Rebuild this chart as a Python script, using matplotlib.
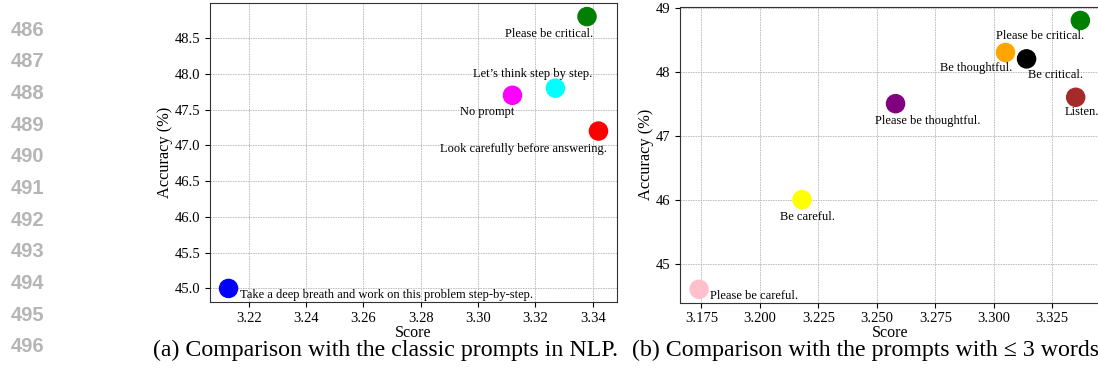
import matplotlib
matplotlib.use('Agg')
import matplotlib.pyplot as plt
from matplotlib.ticker import MultipleLocator, FormatStrFormatter

# (a) classic prompts
labels_a = ['Take a deep breath and work on this problem step-by-step.', 'No prompt',
            "Let\u2019s think step by step.", 'Please be critical.', 'Look carefully before answering.']
score_a = [3.213, 3.312, 3.327, 3.338, 3.342]
acc_a = [45.0, 47.7, 47.8, 48.8, 47.2]
colors_a = ['blue', 'magenta', 'cyan', 'green', 'red']

# (b) prompts with <= 3 words
labels_b = ['Please be careful.', 'Be careful.', 'Please be thoughtful.', 'Be thoughtful.',
            'Be critical.', 'Listen.', 'Please be critical.']
score_b = [3.174, 3.218, 3.258, 3.305, 3.314, 3.335, 3.337]
acc_b = [44.6, 46.0, 47.5, 48.3, 48.2, 47.6, 48.8]
colors_b = ['pink', 'yellow', 'purple', 'orange', 'black', 'brown', 'green']

# label placement (pixel offsets, alignment)
offs_a = [(11, -7, 'left'), (2, -17, 'right'), (37, 14, 'right'), (6, -17, 'right'), (9, -18, 'right')]
offs_b = [(11, -7, 'left'), (6, -17, 'center'), (32, -17, 'center'), (7, -16, 'right'),
          (1, -16, 'left'), (6, -15, 'center'), (4, -16, 'right')]

serif = ['Liberation Serif', 'DejaVu Serif']
plt.rcParams['font.family'] = serif

fig = plt.figure(figsize=(10.98, 3.68), dpi=100)
ax1 = fig.add_axes([0.1913, 0.1793, 0.3706, 0.8125])
ax2 = fig.add_axes([0.6193, 0.1774, 0.382, 0.8035])


def draw(ax, xs, ys, cols, labs, offs):
    ax.scatter(xs, ys, c=cols, s=170, zorder=3)
    for x, y, lab, (dx, dy, ha) in zip(xs, ys, labs, offs):
        ax.annotate(lab, (x, y), xytext=(dx * 0.72, dy * 0.72), textcoords='offset points',
                    ha=ha, va='center', fontsize=9, zorder=4)
    ax.grid(True, linestyle='--', linewidth=0.6, color='#b8b8b8', dashes=(2, 1))
    ax.set_axisbelow(True)
    ax.tick_params(labelsize=10.5, length=3.5, width=0.8)
    ax.set_xlabel('Score', fontsize=11.5, labelpad=0)
    ax.set_ylabel('Accuracy (%)', fontsize=11.8, labelpad=1)
    for s in ax.spines.values():
        s.set_color('#333333')


draw(ax1, score_a, acc_a, colors_a, labels_a, offs_a)
draw(ax2, score_b, acc_b, colors_b, labels_b, offs_b)
ax2.xaxis.set_major_locator(MultipleLocator(0.025))
ax2.xaxis.set_major_formatter(FormatStrFormatter('%.3f'))

fig.text(153 / 1098, 1 - 356 / 368, '(a) Comparison with the classic prompts in NLP.',
         fontsize=17.2, va='baseline', ha='left')
fig.text(632 / 1098, 1 - 356 / 368, '(b) Comparison with the prompts with \u2264 3 words',
         fontsize=17.2, va='baseline', ha='left')

# page line numbers
for i, n in enumerate(range(486, 497)):
    fig.text(11 / 1098, 1 - (30 + i * 31.7) / 368, str(n), fontsize=14.5, fontweight='bold',
             color='#b5b5b5', family=['Liberation Sans', 'DejaVu Sans'], va='center', ha='left')

fig.savefig('out.png', dpi=100)
